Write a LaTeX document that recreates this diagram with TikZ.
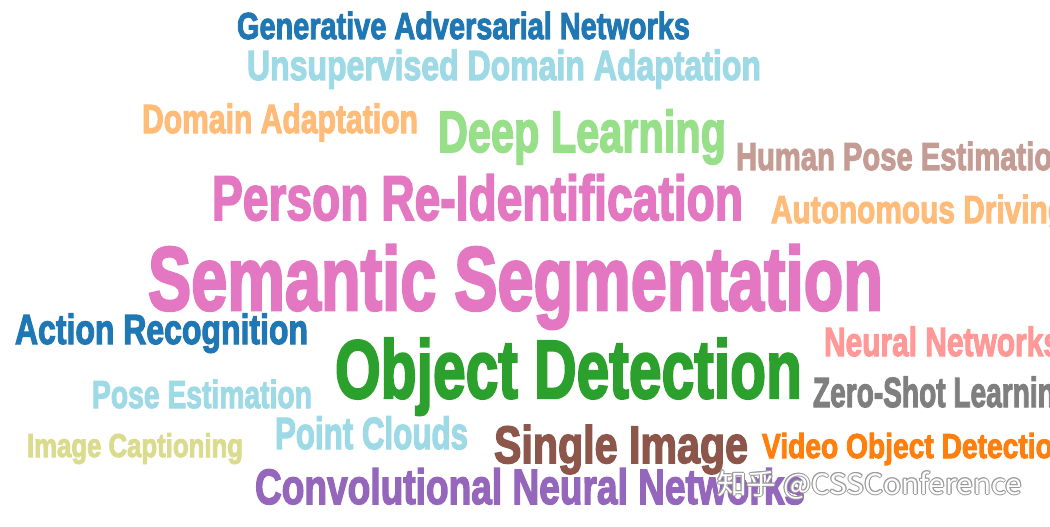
\documentclass[tikz,border=0pt]{standalone}
\usepackage{fontspec}
\setmainfont{Liberation Sans}
\newfontfamily\wcfont{Liberation Sans}[UprightFont=*-Bold, FakeBold=3]
\newfontfamily\cjk{Noto Sans CJK SC}
\usepackage{graphicx}
\definecolor{tabblue}{HTML}{1F77B4}
\definecolor{tabcyanl}{HTML}{9EDAE5}
\definecolor{tabpeach}{HTML}{FFBB78}
\definecolor{tabgreenl}{HTML}{98DF8A}
\definecolor{tabbrownl}{HTML}{C49C94}
\definecolor{tabpink}{HTML}{E377C2}
\definecolor{tabsalmon}{HTML}{FF9896}
\definecolor{tabgreen}{HTML}{2CA02C}
\definecolor{tabgray}{HTML}{7F7F7F}
\definecolor{tabolivel}{HTML}{DBDB8D}
\definecolor{tabbrown}{HTML}{8C564B}
\definecolor{taborange}{HTML}{FF7F0E}
\definecolor{tabpurple}{HTML}{9467BD}
\definecolor{wmgray}{HTML}{9A9A9A}
\newcommand\wcword[7]{%
  \pgfmathsetmacro\wcfs{#5/0.665}%
  \pgfmathsetmacro\wcw{#4-#2}%
  \node[word, text=#6, font=\wcfont\fontsize{\wcfs pt}{\wcfs pt}\selectfont] (#1) at (#2,#3) {\resizebox{\wcw pt}{\height}{#7}};%
}
\newcommand\wmtext{\resizebox{305pt}{\height}{知乎 @CSSConference}}
\begin{document}
\begin{tikzpicture}[x=1pt,y=-1pt,
  word/.style={anchor=base west, inner sep=0pt, outer sep=0pt},
  wm/.style={anchor=base west, inner sep=0pt, outer sep=0pt, font=\cjk\fontsize{28pt}{28pt}\selectfont}]
\useasboundingbox (0,0) rectangle (1050,527);
\fill[white] (0,0) rectangle (1050,527);
\clip (0,0) rectangle (1050,527);
\wcword{gan}{237}{39}{690}{25}{tabblue}{Generative Adversarial Networks}
\wcword{uda}{247}{80}{761}{28}{tabcyanl}{Unsupervised Domain Adaptation}
\wcword{da}{142}{133}{418}{27}{tabpeach}{Domain Adaptation}
\wcword{dl}{438}{152}{726}{39}{tabgreenl}{Deep Learning}
\wcword{hpe}{736}{170}{1070}{26}{tabbrownl}{Human Pose Estimation}
\wcword{reid}{212}{220}{743}{42}{tabpink}{Person Re-Identification}
\wcword{ad}{771}{223}{1066}{26}{tabpeach}{Autonomous Driving}
\wcword{ss}{148}{310}{883}{60}{tabpink}{Semantic Segmentation}
\wcword{ar}{15}{344}{308}{28}{tabblue}{Action Recognition}
\wcword{nn}{824}{356}{1060}{27}{tabsalmon}{Neural Networks}
\wcword{od}{335}{398}{802}{55}{tabgreen}{Object Detection}
\wcword{pe}{92}{408}{312}{26}{tabcyanl}{Pose Estimation}
\wcword{zsl}{813}{407}{1072}{28}{tabgray}{Zero-Shot Learning}
\wcword{ic}{27}{457}{243}{22}{tabolivel}{Image Captioning}
\wcword{pc}{275}{449}{468}{30}{tabcyanl}{Point Clouds}
\wcword{si}{494}{463}{748}{35}{tabbrown}{Single Image}
\wcword{vod}{762}{458}{1070}{23}{taborange}{Video Object Detection}
\wcword{cnn}{255}{504}{805}{33}{tabpurple}{Convolutional Neural Networks}
\foreach \dx/\dy [count=\i] in {-1/0,1/0,0/-1,0/1,-0.7/-0.7,0.7/0.7,-0.7/0.7,0.7/-0.7}{
  \node[wm, text=wmgray, xshift=\dx pt, yshift=\dy pt] (wmo\i) at (717,494) {\wmtext};
}
\node[wm, text=white] (wm) at (717,494) {\wmtext};
\end{tikzpicture}
\end{document}
